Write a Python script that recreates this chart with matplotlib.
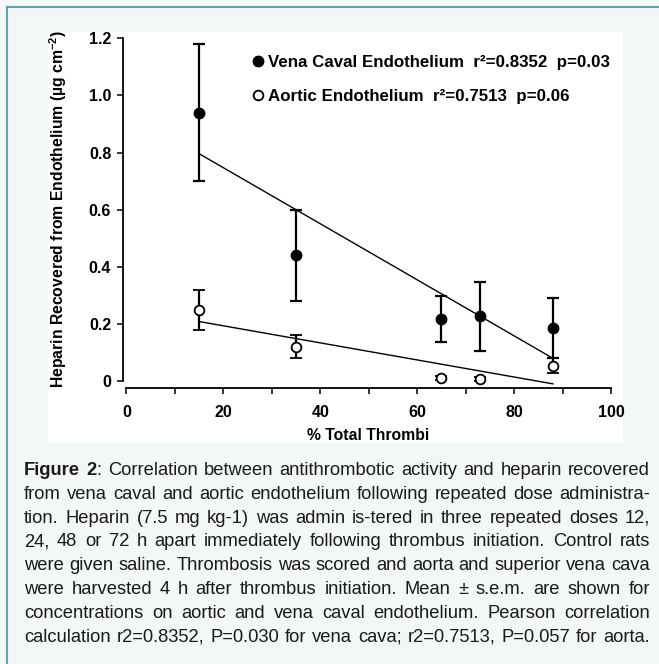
import numpy as np
import matplotlib
matplotlib.use('Agg')
import matplotlib.pyplot as plt
from matplotlib.lines import Line2D
from matplotlib.patches import Rectangle

plt.rcParams['font.family'] = ['Liberation Sans', 'DejaVu Sans']
plt.rcParams['mathtext.fontset'] = 'custom'
plt.rcParams['mathtext.rm'] = 'Liberation Sans'
plt.rcParams['mathtext.bf'] = 'Liberation Sans:bold'

# values
thrombi = [15, 35, 65, 73, 88]
vena_mean = [0.94, 0.44, 0.216, 0.226, 0.185]
vena_sem = [0.24, 0.16, 0.08, 0.12, 0.105]
aortic_mean = [0.25, 0.12, 0.010, 0.006, 0.054]
aortic_sem = [0.07, 0.04, 0.007, 0.007, 0.027]

vena_label = 'Vena Caval Endothelium  r²=0.8352  p=0.03'
aortic_label = 'Aortic Endothelium  r²=0.7513  p=0.06'
x_ticks = [0, 20, 40, 60, 80, 100]
x_minor = [10, 30, 50, 70, 90]
y_ticks = [0, 0.2, 0.4, 0.6, 0.8, 1.0, 1.2]
y_tick_labels = ['0', '0.2', '0.4', '0.6', '0.8', '1.0', '1.2']

caption_lines = [
    'Figure 2: Correlation between antithrombotic activity and heparin recovered',
    'from vena caval and aortic endothelium following repeated dose administra-',
    'tion. Heparin (7.5 mg kg-1) was admin is-tered in three repeated doses 12,',
    '24, 48 or 72 h apart immediately following thrombus initiation. Control rats',
    'were given saline. Thrombosis was scored and aorta and superior vena cava',
    'were harvested 4 h after thrombus initiation. Mean ± s.e.m. are shown for',
    'concentrations on aortic and vena caval endothelium. Pearson correlation',
    'calculation r2=0.8352, P=0.030 for vena cava; r2=0.7513, P=0.057 for aorta.',
]

W, H = 659, 664
fig = plt.figure(figsize=(W / 100, H / 100), dpi=100)
fig.patch.set_facecolor('#f4f7f7')


def fx(px):
    return px / W


def fy(py):
    return 1 - py / H


# white panel behind the chart, teal frame on top/left
fig.patches.append(Rectangle((fx(48), fy(443)), fx(623) - fx(48), fy(32) - fy(443),
                             transform=fig.transFigure, facecolor='white',
                             edgecolor='none', zorder=-1))
teal = '#5ba7a8'
fig.add_artist(Line2D([fx(7), 1], [fy(6.5), fy(6.5)], color=teal, lw=1.5,
                      transform=fig.transFigure))
fig.add_artist(Line2D([fx(7), fx(7)], [0, fy(6.5)], color=teal, lw=1.5,
                      transform=fig.transFigure))

ax = fig.add_axes([fx(123), fy(388), fx(611) - fx(123), fy(38.3) - fy(388)])
ax.set_facecolor('none')

# error bars
ax.errorbar(thrombi, vena_mean, yerr=vena_sem, fmt='o', color='black', ms=7.5,
            elinewidth=1.6, capsize=4, capthick=1.6, zorder=3, clip_on=False)
ax.errorbar(thrombi, aortic_mean, yerr=aortic_sem, fmt='o', color='black',
            mfc='white', mec='black', mew=1.3, ms=7, elinewidth=1.6, capsize=4,
            capthick=1.6, zorder=4, clip_on=False)

# least squares lines
xs = np.array([min(thrombi), max(thrombi)])
for means in (vena_mean, aortic_mean):
    k, b = np.polyfit(thrombi, means, 1)
    ax.plot(xs, k * xs + b, color='black', lw=1.0, zorder=2, clip_on=False)

ax.set_xlim(-0.72, 100)
ax.set_ylim(-0.0246, 1.2)
for s in ('top', 'right'):
    ax.spines[s].set_visible(False)
ax.spines['left'].set_bounds(0, 1.2)
ax.spines['bottom'].set_bounds(0, 100)
ax.spines['left'].set_linewidth(1.3)
ax.spines['bottom'].set_linewidth(1.3)

ax.set_xticks(x_ticks)
ax.set_xticks(x_minor, minor=True)
ax.set_yticks(y_ticks)
ax.set_yticklabels(y_tick_labels)
ax.tick_params(axis='both', which='both', direction='out', length=4.5, width=1.1,
               labelsize=11.5)
ax.tick_params(axis='x', pad=8)
ax.tick_params(axis='y', pad=4)
for lab in ax.get_xticklabels() + ax.get_yticklabels():
    lab.set_fontweight('bold')

fig.text(fx(58), fy(209), 'Heparin Recovered from Endothelium (µg cm$^{\\mathbf{-2}}$)',
         rotation=90, ha='center', va='center', fontsize=11.3, weight='bold')
fig.text(fx(368.5), fy(436), '% Total Thrombi', ha='center', va='center',
         fontsize=11.3, weight='bold')

handles = [Line2D([], [], marker='o', ls='none', color='black', ms=7.5),
           Line2D([], [], marker='o', ls='none', mfc='white', mec='black', mew=1.3, ms=7)]
ax.legend(handles, [vena_label, aortic_label], loc='upper left',
          bbox_to_anchor=(0.263, 0.953), frameon=False, borderpad=0,
          borderaxespad=0, handlelength=0.8, handletextpad=0.2,
          labelspacing=1.12, prop={'size': 12.2, 'weight': 'bold'})

# justified caption
renderer = fig.canvas.get_renderer()
cap_left, cap_right = 24, 650


def word_parts(i, w):
    if i == 0 and w == 'Figure':
        return [(w, 'bold')]
    if i == 0 and w == '2:':
        return [('2', 'bold'), (':', 'normal')]
    return [(w, 'normal')]


# pick the size so that the widest line just fits with normal word spacing
probe = fig.text(0, 0, ' ', fontsize=10)
widest = 0
for line in caption_lines:
    probe.set_text(line)
    widest = max(widest, probe.get_window_extent(renderer).width)
probe.remove()
cap_fs = 10 * (cap_right - cap_left) / widest

for i, line in enumerate(caption_lines):
    base = fy(641.7 - 23.8 * (len(caption_lines) - 1 - i))
    words = []
    for w in line.split():
        parts = [fig.text(0, base, s, fontsize=cap_fs, weight=wt, color='#1a1a1a',
                          ha='left', va='baseline') for s, wt in word_parts(i, w)]
        widths = [t.get_window_extent(renderer).width for t in parts]
        words.append((parts, widths))
    total = sum(sum(ws) for _, ws in words)
    gap = (cap_right - cap_left - total) / (len(words) - 1)
    x = cap_left
    for parts, ws in words:
        for t, wd in zip(parts, ws):
            t.set_x(fx(x))
            x += wd
        x += gap

fig.savefig('out.png', dpi=100, facecolor=fig.get_facecolor())
